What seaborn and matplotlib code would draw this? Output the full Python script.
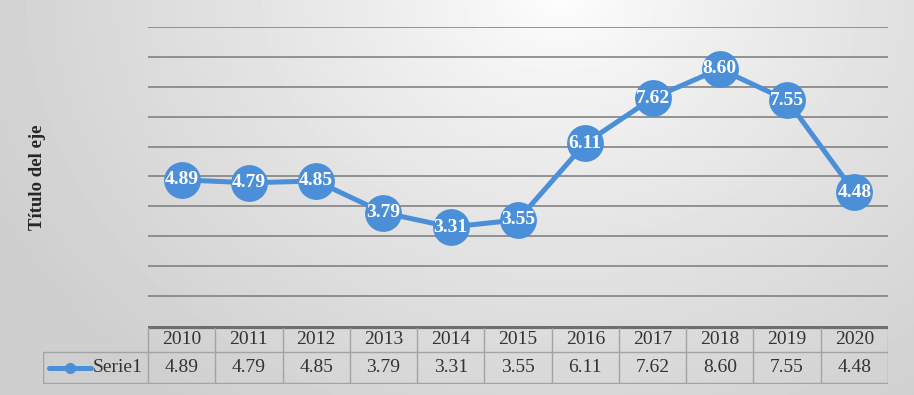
import numpy as np
import pandas as pd
import matplotlib
matplotlib.use("Agg")
import matplotlib.pyplot as plt
import seaborn as sns

YEARS  = ["2010", "2011", "2012", "2013", "2014", "2015", "2016", "2017", "2018", "2019", "2020"]
VALUES = [4.89, 4.79, 4.85, 3.79, 3.31, 3.55, 6.11, 7.62, 8.60, 7.55, 4.48]
SERIES = "Serie1"
Y_TITLE = "Título del eje"

BLUE = "#4a8fd8"
SERIF = ["Liberation Serif", "DejaVu Serif"]

sns.set_theme(style="white")
plt.rcParams["font.family"] = SERIF

df = pd.DataFrame({"pos": np.arange(len(YEARS)), "year": YEARS, "value": VALUES})

W, H = 914, 395
fig = plt.figure(figsize=(W / 100, H / 100), dpi=100)

# background: soft radial gradient, light at the top centre
bg = fig.add_axes([0, 0, 1, 1], zorder=-5)
yy, xx = np.mgrid[0:H, 0:W]
d = np.sqrt(((xx - 560) / 1.2) ** 2 + ((yy + 10) * 1.0) ** 2)
t = np.clip(d / 520, 0, 1)
shade = 1.0 - 0.19 * t ** 0.8
bg.imshow(shade, cmap="gray", vmin=0, vmax=1, aspect="auto", interpolation="bilinear")
bg.axis("off")

def fx(px):
    return px / W

def fy(py):
    return 1 - py / H

# main plot
left, right, top, bottom = 148, 888, 27, 326
ax = fig.add_axes([fx(left), fy(bottom), fx(right - left), (bottom - top) / H])
ax.patch.set_alpha(0)
sns.lineplot(data=df, x="pos", y="value", ax=ax, color=BLUE, linewidth=3.6,
             marker="o", markersize=26.5, markeredgewidth=0, zorder=3)
for _, r in df.iterrows():
    ax.text(r["pos"], r["value"], f"{r['value']:.2f}", ha="center", va="center",
            color="white", fontsize=14, fontweight="bold", zorder=4)
ax.set_xlim(-0.5, len(YEARS) - 0.5)
ax.set_ylim(0, 10)
ax.set_yticks(np.arange(1, 11))
ax.yaxis.grid(True, color="#7a7a7a", linewidth=1.1)
ax.set_xticks([])
ax.set_yticklabels([])
ax.tick_params(left=False, bottom=False)
ax.set_xlabel("")
ax.set_ylabel("")
for s in ax.spines.values():
    s.set_visible(False)

fig.text(fx(38), fy(177), Y_TITLE, rotation=90, ha="center", va="center",
         fontsize=13.5, fontweight="bold", color="#262626")

# data table under the plot
tl, tr, ttop, tmid, tbot = 43, 888, 326, 352, 384
tab = fig.add_axes([fx(tl), fy(tbot), fx(tr - tl), (tbot - ttop) / H])
tab.patch.set_alpha(0)
tab.set_xlim(tl, tr)
tab.set_ylim(tbot, ttop)
tab.axis("off")
colw = (right - left) / len(YEARS)
grid_c = "#a3a3a3"
tab.plot([left, right], [ttop + 1, ttop + 1], color="#6e6e6e", lw=3, solid_capstyle="butt")
tab.plot([left, right], [tmid, tmid], color=grid_c, lw=1)
tab.plot([tl, right], [tbot - 1, tbot - 1], color=grid_c, lw=1)
tab.plot([tl, left], [tmid, tmid], color=grid_c, lw=1)
tab.plot([tl, tl], [tmid, tbot - 1], color=grid_c, lw=1)
for i in range(len(YEARS) + 1):
    x = left + i * colw
    tab.plot([x, x], [ttop + 2, tbot - 1], color=grid_c, lw=1)
for i, (yr, v) in enumerate(zip(YEARS, VALUES)):
    cx = left + (i + 0.5) * colw
    tab.text(cx, (ttop + tmid) / 2 + 1, yr, ha="center", va="center", fontsize=14, color="#333333")
    tab.text(cx, (tmid + tbot) / 2, f"{v:.2f}", ha="center", va="center", fontsize=14, color="#333333")

# legend key
tab.plot([49, 91], [368, 368], color=BLUE, lw=3.6, solid_capstyle="round")
tab.plot([70], [368], marker="o", color=BLUE, markersize=8, markeredgewidth=0)
tab.text(93, 368, SERIES, ha="left", va="center", fontsize=14, color="#333333")

fig.savefig("out.png", dpi=100)
